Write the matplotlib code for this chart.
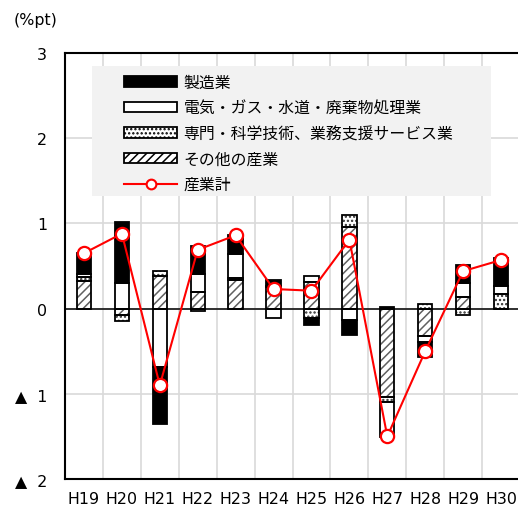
import numpy as np
import matplotlib
matplotlib.use('Agg')
import matplotlib.pyplot as plt
from matplotlib.patches import Patch, Rectangle
from matplotlib.lines import Line2D

plt.rcParams['font.family'] = ['DejaVu Sans', 'Noto Sans CJK JP']
plt.rcParams['hatch.linewidth'] = 1.1

# data
years = ['H19', 'H20', 'H21', 'H22', 'H23', 'H24', 'H25', 'H26', 'H27', 'H28', 'H29', 'H30']
mfg = [0.24, 0.72, -0.67, 0.32, 0.22, 0.065, -0.08, -0.18, 0.02, -0.18, 0.21, 0.32]
elec = [0.04, 0.30, -0.69, 0.22, 0.285, -0.115, 0.07, -0.13, -0.41, -0.07, 0.16, 0.10]
prof = [0.045, -0.07, 0.06, -0.03, 0.015, 0.02, -0.11, 0.14, -0.06, 0.05, -0.07, 0.17]
other = [0.325, -0.07, 0.385, 0.19, 0.34, 0.25, 0.31, 0.96, -1.04, -0.32, 0.14, 0.0]
total = [0.65, 0.88, -0.90, 0.69, 0.86, 0.23, 0.21, 0.81, -1.50, -0.50, 0.44, 0.57]

labels = ['製造業', '電気・ガス・水道・廃棄物処理業', '専門・科学技術、業務支援サービス業', 'その他の産業', '産業計']

fs = 11.4
dots = '....'
fig = plt.figure(figsize=(5.18, 5.10), dpi=100)
ax = fig.add_axes([65/518, 30/510, 455/518, 426/510])

x = np.arange(len(years))
w = 0.38
# stacking order from the zero line outwards
series = [
    (other, 'white', '////', '#606060'),
    (prof, 'white', dots, '#303030'),
    (elec, 'white', '', 'black'),
    (mfg, 'black', '', 'black'),
]
pos = np.zeros(len(years))
neg = np.zeros(len(years))
for vals, fc, hatch, hc in series:
    vals = np.array(vals)
    bottom = np.where(vals >= 0, pos, neg)
    ax.bar(x, vals, w, bottom=bottom, color=fc, hatch=hatch, edgecolor=hc, linewidth=0, zorder=3)
    ax.bar(x, vals, w, bottom=bottom, fill=False, edgecolor='black', linewidth=1.3, zorder=4)
    pos = np.where(vals >= 0, pos + vals, pos)
    neg = np.where(vals < 0, neg + vals, neg)

ax.plot(x, total, color='red', lw=1.5, marker='o', ms=9.5, mfc='white', mec='red', mew=1.6, zorder=5)
ax.axhline(0, color='black', lw=1.1, zorder=4)

ax.set_xlim(-0.5, 11.5)
ax.set_ylim(-2, 3)
ax.set_yticks([3, 2, 1, 0, -1, -2])
ax.set_yticklabels(['3', '2', '1', '0', '▲  1', '▲  2'], fontsize=fs)
ax.set_xticks(x)
ax.set_xticklabels(years, fontsize=fs)
ax.set_xticks(np.arange(0.5, 11.5, 1), minor=True)
ax.tick_params(axis='both', which='both', length=0)
ax.tick_params(axis='y', pad=13)
ax.tick_params(axis='x', pad=9)
ax.grid(axis='x', which='minor', color='#d9d9d9', lw=1.2, zorder=0)
ax.grid(axis='y', which='major', color='#d9d9d9', lw=1.2, zorder=0)
for s in ['left', 'bottom', 'top']:
    ax.spines[s].set_linewidth(1.5)
ax.spines['right'].set_visible(False)

fig.text(14/518, 1 - 20/510, '(%pt)', fontsize=fs, ha='left', va='center')

# legend background box
ax.add_patch(Rectangle((92/518, 1 - 197/510), 399/518, 130/510, transform=fig.transFigure,
                       facecolor='#f2f2f2', edgecolor='none', zorder=5.5, clip_on=False))

handles = [
    Patch(facecolor='black', edgecolor='black', lw=1.3),
    Patch(facecolor='white', edgecolor='black', lw=1.3),
    Patch(facecolor='white', edgecolor='black', hatch=dots, lw=1.3),
    Patch(facecolor='white', edgecolor='black', hatch='////', lw=1.3),
    Line2D([], [], color='red', lw=1.5, marker='o', ms=7, mfc='white', mec='red', mew=1.5),
]
leg = ax.legend(handles, labels, loc='upper left',
                bbox_to_anchor=(124/518, 1 - 76/510), bbox_transform=fig.transFigure,
                fontsize=fs, frameon=False, handlelength=3.35, handleheight=0.63,
                labelspacing=0.66, handletextpad=0.4, borderpad=0, borderaxespad=0)
leg.set_zorder(6)

fig.savefig('out.png', dpi=100)
